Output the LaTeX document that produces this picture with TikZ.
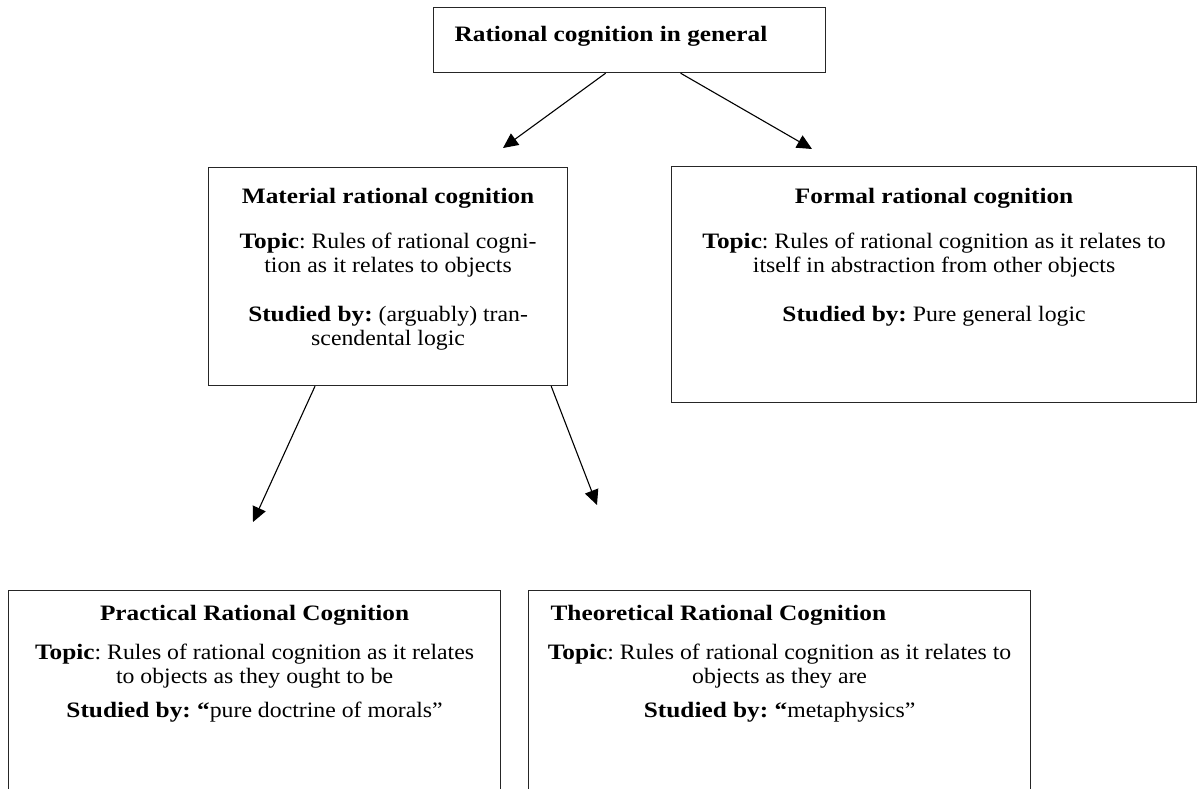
\documentclass[tikz,border=0pt]{standalone}
\usepackage{fontspec}
\setmainfont{Liberation Serif}[FakeStretch=1.08,BoldFeatures={FakeStretch=1.15}]
\usepackage{tikz}
\usetikzlibrary{arrows.meta,positioning}
\tikzset{cbox/.style={draw=black!85,line width=1.2pt,inner sep=0pt,anchor=north west,font=\fontsize{22}{24}\selectfont\frenchspacing},
  arr/.style={line width=1.1pt,-{Triangle[length=15pt,width=14pt]}}}
\newcommand{\boxbody}[3]{\begin{minipage}[c][#2][t]{#1}#3\end{minipage}}

\begin{document}
\begin{tikzpicture}[x=1pt,y=-1pt]
    \useasboundingbox (0,0) rectangle (1197,789);

    \node[cbox] (gen) at (433,7) {\boxbody{392pt}{65pt}{\rule{0pt}{34pt}\hspace*{21pt}\textbf{Rational cognition in general}}};
    \node[cbox] (mat) at (208,167) {\boxbody{359pt}{218pt}{\centering
        \rule{0pt}{36pt}\textbf{Material rational cognition}\\[21pt]
        \textbf{Topic}: Rules of rational cogni-\\tion as it relates to objects\\[25pt]
        \textbf{Studied by:} (arguably) tran-\\scendental logic}};
    \node[cbox] (frm) at (671,166) {\boxbody{525pt}{236pt}{\centering
        \rule{0pt}{37pt}\textbf{Formal rational cognition}\\[21pt]
        \textbf{Topic}: Rules of rational cognition as it relates to\\itself in abstraction from other objects\\[25pt]
        \textbf{Studied by:} Pure general logic}};
    \node[cbox] (prc) at (8,590) {\boxbody{492pt}{260pt}{\centering
        \rule{0pt}{30pt}\textbf{Practical Rational Cognition}\\[15pt]
        \textbf{Topic}: Rules of rational cognition as it relates\\to objects as they ought to be\\[10pt]
        \textbf{Studied by: “}pure doctrine of morals”}};
    \node[cbox] (thr) at (528,590) {\boxbody{502pt}{260pt}{%
        \rule{0pt}{30pt}\hspace*{22pt}\textbf{Theoretical Rational Cognition}\par
        \vspace{15pt}\centering
        \textbf{Topic}: Rules of rational cognition as it relates to\\objects as they are\\[10pt]
        \textbf{Studied by: “}metaphysics”}};

    % free arrow ends
    \coordinate (tmat) at (503,148);
    \coordinate (tfrm) at (812,149);
    \coordinate (tprc) at (253,522);
    \coordinate (tthr) at (597,505);

    \draw[arr] ([xshift=-24pt]gen.south) to (tmat);
    \draw[arr] ([xshift=51pt]gen.south) to (tfrm);
    \draw[arr] ([xshift=107pt]mat.south west) to (tprc);
    \draw[arr] ([xshift=-17pt]mat.south east) to (tthr);
\end{tikzpicture}
\end{document}
